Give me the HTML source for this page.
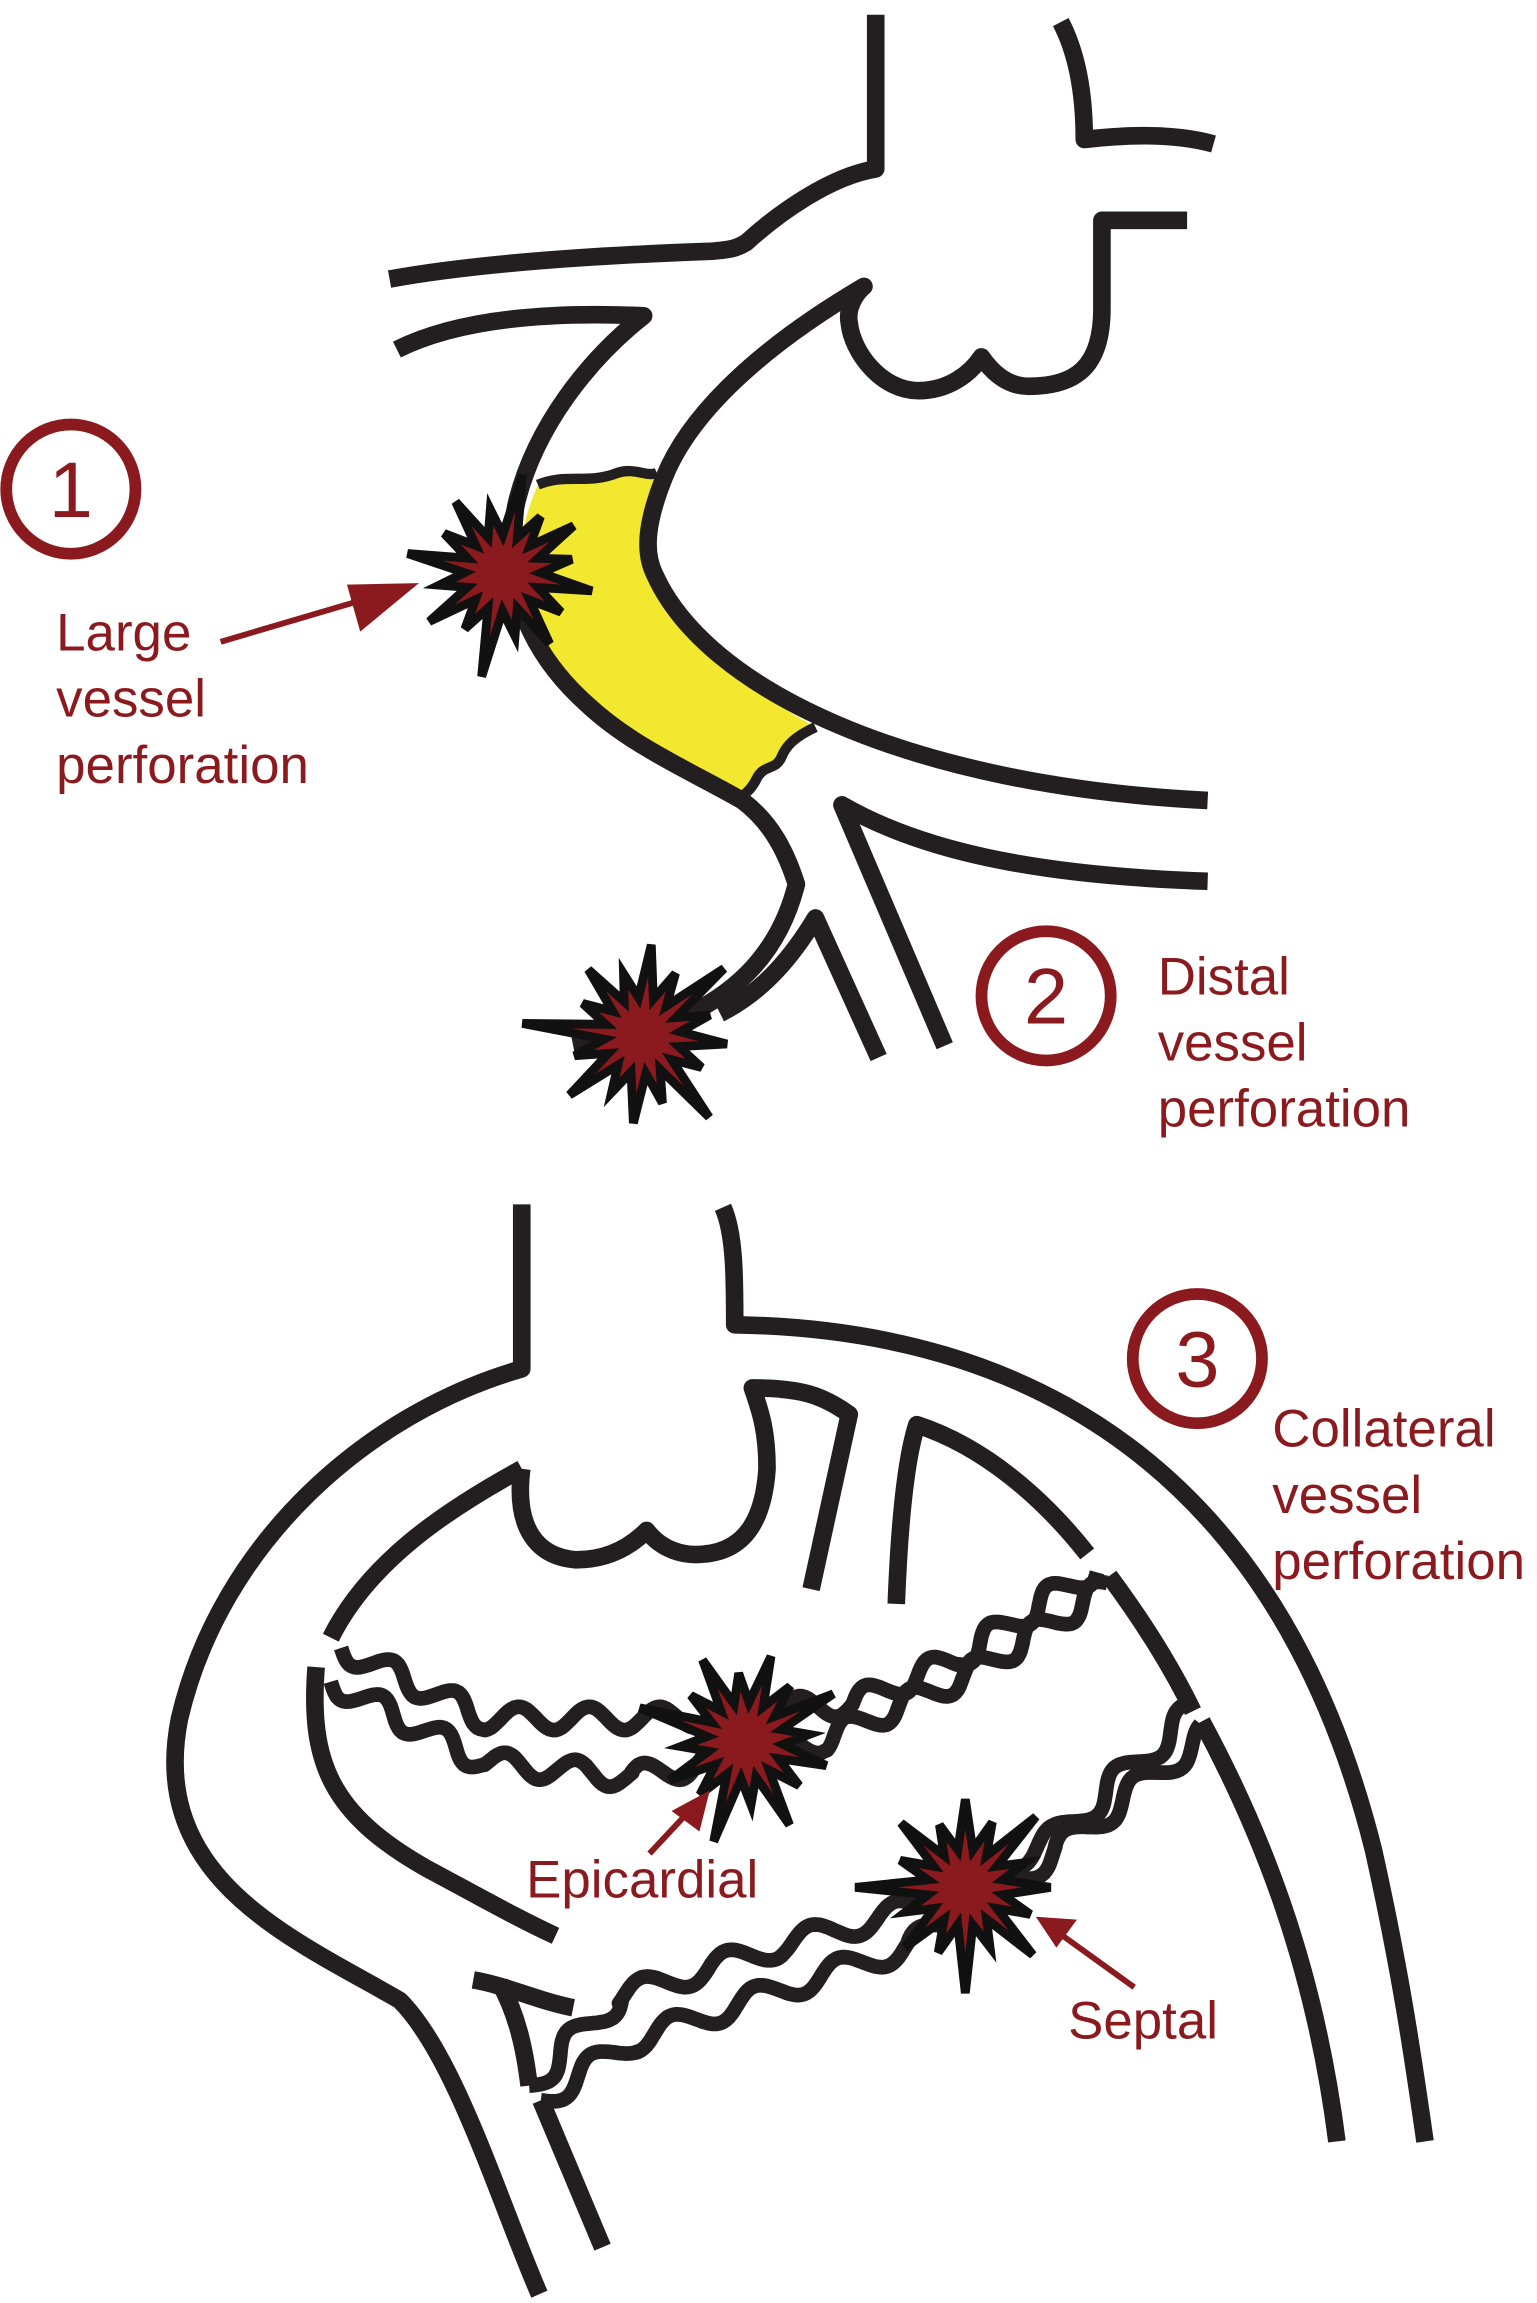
<!DOCTYPE html>
<html><head><meta charset="utf-8"><style>
html,body{margin:0;padding:0;background:#fff;}
svg{display:block}
text{font-family:"Liberation Sans",sans-serif;fill:#8b1a1e;font-size:36px}
text.n{font-size:54px}
</style></head><body>
<svg id="s" width="1537" height="2303" viewBox="0 0 1046 1568" xmlns="http://www.w3.org/2000/svg">
<g fill="none" stroke="#231f20" stroke-width="12" stroke-linecap="butt" stroke-linejoin="round">
<path d="M366,330 C385,322 400,330 420,322 C432,318 440,325 447,322 C440,345 438,360 440,372 C452,420 500,465 555,495 C540,505 530,510 525,520 C515,530 510,540 503,545 C430,505 370,470 352,420 C348,390 355,355 366,330 Z" fill="#f2e830" stroke="none"/>
<path d="M366,330 C385,322 400,330 420,322 C432,318 440,325 447,322" stroke-width="7"/>
<path d="M555,495 C540,502 535,508 532,515 C528,525 520,520 515,530 C510,540 506,540 503,545" stroke-width="7"/>
<path d="M596,10 L596,115 C565,120 530,145 508,165 C500,170 495,170 485,171 C400,174 320,180 265,190"/>
<path d="M722,15 C735,40 738,70 738,95 C780,90 808,93 826,98"/>
<path d="M808,150 L750,150 L750,210 C750,250 732,263 700,263 C685,263 675,253 668,243 C660,255 645,266 625,266 C600,266 580,240 578,220 C576,210 582,200 588,195 C520,235 470,280 452,325 C440,355 438,375 445,390 C480,470 620,535 822,545"/>
<path d="M270,238 C310,218 370,212 438,215 C400,245 365,290 352,340 C340,390 355,440 400,480 C430,508 470,525 505,545 C525,560 535,580 542,602 C530,650 500,675 470,690 C445,700 410,708 390,712"/>
<path d="M822,600 C700,596 625,578 573,548 L643,712"/>
<path d="M598,720 L555,625 C540,650 520,675 490,690"/>
<path d="M355,820 L355,932 C250,962 150,1050 122,1170 C100,1280 200,1320 272,1362 C310,1400 340,1500 367,1562"/>
<path d="M492,822 C500,840 500,870 500,902 C700,905 870,1000 935,1260 C955,1350 963,1410 970,1458"/>
<path d="M355,1000 C300,1030 250,1065 225,1115"/>
<path d="M355,1000 C350,1040 365,1060 392,1062 C415,1062 430,1052 440,1042 C450,1055 465,1060 480,1058 C510,1055 520,1030 522,1000 C522,975 518,962 512,945 C545,945 560,950 578,963 L552,1082"/>
<path d="M610,1092 C612,1040 616,995 624,970 C670,985 710,1020 740,1058"/>
<path d="M215,1135 C210,1200 225,1235 290,1272 C320,1288 350,1305 378,1318"/>
<path d="M755,1073 C775,1100 795,1130 812,1165"/>
<path d="M818,1172 C860,1250 895,1340 910,1458"/>
<path d="M322,1348 C345,1352 365,1362 390,1367"/>
<path d="M340,1350 C352,1372 357,1395 360,1420"/>
<path d="M368,1430 L410,1530"/>
<path id="w1" d="" stroke-width="10"/>
<path id="w2" d="" stroke-width="10"/>
<path id="w3" d="" stroke-width="10"/>
<path id="w4" d="" stroke-width="10"/>
</g>
<g id="stars" fill="#8b1a1e" stroke="#111" stroke-width="6" stroke-linejoin="miter"></g>
<g fill="none" stroke="#8b1a1e" stroke-width="8">
<circle cx="48" cy="333" r="44"/>
<circle cx="712" cy="678" r="44"/>
<circle cx="815" cy="925" r="44"/>
</g>
<g fill="none" stroke="#8b1a1e" stroke-width="4">
<line x1="150" y1="437" x2="255" y2="406"/>
<line x1="442" y1="1262" x2="470" y2="1232"/>
<line x1="772" y1="1353" x2="722" y2="1317"/>
</g>
<g fill="#8b1a1e">
<polygon points="285,397 245,430 236,398"/>
<polygon points="483,1219 476,1247 457,1233"/>
<polygon points="705,1305 733,1307 719,1326"/>
</g>
<text class="n" x="33" y="352">1</text>
<text class="n" x="697" y="697">2</text>
<text class="n" x="800" y="944">3</text>
<text x="38" y="443">Large</text>
<text x="38" y="488">vessel</text>
<text x="38" y="533">perforation</text>
<text x="788" y="677">Distal</text>
<text x="788" y="722">vessel</text>
<text x="788" y="767">perforation</text>
<text x="866" y="985">Collateral</text>
<text x="866" y="1030">vessel</text>
<text x="866" y="1075">perforation</text>
<text x="358" y="1292">Epicardial</text>
<text x="727" y="1388">Septal</text>
</svg>
<script>
function wavy(pts,amp,wl){
  var d="";var first=true;var acc=0;
  for(var i=0;i<pts.length-1;i++){
    var a=pts[i],b=pts[i+1];var dx=b[0]-a[0],dy=b[1]-a[1];var L=Math.hypot(dx,dy);
    var nx=-dy/L,ny=dx/L;var n=Math.ceil(L/2);
    for(var k=0;k<=n;k++){var t=k/n;var s=acc+t*L;
      var o=amp*Math.sin(s/wl*2*Math.PI);
      var x=a[0]+dx*t+nx*o,y=a[1]+dy*t+ny*o;
      d+=(first?"M":"L")+x.toFixed(1)+","+y.toFixed(1);first=false;}
    acc+=L;
  }
  return d;
}
document.getElementById("w1").setAttribute("d",wavy([[232,1122],[330,1170],[450,1170],[580,1160],[650,1130],[745,1068]],8,48));
document.getElementById("w2").setAttribute("d",wavy([[225,1145],[330,1200],[430,1210],[560,1185],[660,1140],[755,1080]],8,48));
document.getElementById("w3").setAttribute("d",wavy([[360,1420],[420,1360],[530,1325],[620,1300],[720,1250],[812,1165]],8,60));
document.getElementById("w4").setAttribute("d",wavy([[368,1430],[430,1390],[530,1355],[620,1325],[720,1260],[822,1180]],8,60));
function star(cx,cy,rs,ri,rot){
  var n=rs.length,p=[];
  for(var i=0;i<n;i++){
    var a=rot+i*2*Math.PI/n;p.push((cx+rs[i]*Math.cos(a)).toFixed(1)+","+(cy+rs[i]*Math.sin(a)).toFixed(1));
    var a2=a+Math.PI/n;p.push((cx+ri*Math.cos(a2)).toFixed(1)+","+(cy+ri*Math.sin(a2)).toFixed(1));
  }
  var e=document.createElementNS("http://www.w3.org/2000/svg","polygon");
  e.setAttribute("points",p.join(" "));document.getElementById("stars").appendChild(e);
}
star(342,390,[62,48,58,44,72,46,60,44,66,48,58,44,68,46,58,48],26,0.2);
star(437,705,[58,46,72,48,60,44,64,48,82,46,58,44,62,48,72,48],26,0.1);
star(507,1185,[58,48,65,44,72,48,58,44,75,48,62,46,60,48,68,44],26,0.3);
star(657,1285,[58,48,65,44,72,48,58,44,75,48,62,46,60,48,68,44],26,0.0);
</script>
</body></html>
